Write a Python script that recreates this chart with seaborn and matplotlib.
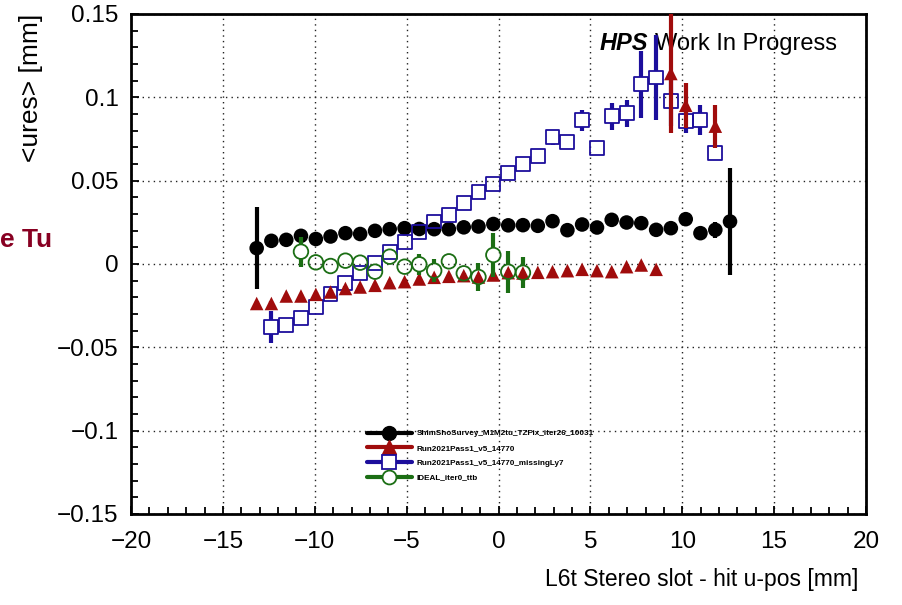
import numpy as np
import pandas as pd
import seaborn as sns
import matplotlib.pyplot as plt
from matplotlib.lines import Line2D
from matplotlib.ticker import MultipleLocator, FuncFormatter

# centros dos bins (hit u-pos, mm)
x_bins = [-13.16, -12.36, -11.55, -10.75, -9.94, -9.14, -8.33, -7.53, -6.72, -5.92,
          -5.11, -4.31, -3.50, -2.70, -1.89, -1.09, -0.28, 0.53, 1.33, 2.14,
          2.94, 3.75, 4.55, 5.36, 6.16, 6.97, 7.77, 8.58, 9.38, 10.19,
          10.99, 11.80, 12.60]

# ShimShoSurvey_M1M2tu_TZFix_iter26_10031 (todos os bins)
idx_shim = list(range(0, 33))
y_shim = [0.0095, 0.0139, 0.0145, 0.0169, 0.0150, 0.0165, 0.0185, 0.0180, 0.0199, 0.0209,
          0.0215, 0.0210, 0.0209, 0.0209, 0.0220, 0.0225, 0.0240, 0.0232, 0.0233, 0.0229,
          0.0257, 0.0203, 0.0237, 0.0219, 0.0265, 0.0249, 0.0245, 0.0205, 0.0215, 0.0269,
          0.0185, 0.0205, 0.0255]
e_shim = [0.0245, 0.002, 0.002, 0.002, 0.002, 0.002, 0.002, 0.002, 0.002, 0.002,
          0.002, 0.002, 0.002, 0.002, 0.002, 0.002, 0.002, 0.002, 0.002, 0.002,
          0.002, 0.002, 0.002, 0.002, 0.002, 0.002, 0.002, 0.002, 0.002, 0.002,
          0.003, 0.005, 0.032]

# Run2021Pass1_v5_14770 (bins 0-29 e 31)
idx_run = list(range(0, 30)) + [31]
y_run = [-0.0237, -0.0237, -0.0192, -0.0192, -0.0182, -0.0168, -0.0147, -0.0138, -0.0128, -0.0112,
         -0.0106, -0.0090, -0.0080, -0.0074, -0.0070, -0.0078, -0.0066, -0.0052, -0.0054, -0.0050,
         -0.0046, -0.0040, -0.0032, -0.0040, -0.0046, -0.0016, -0.0006, -0.0032, 0.1143, 0.0952,
         0.0827]
e_run = [0.0015] * 28 + [0.036, 0.0135, 0.013]

# Run2021Pass1_v5_14770_missingLy7 (bins 1-31)
idx_miss = list(range(1, 32))
y_miss = [-0.0378, -0.0367, -0.0322, -0.0257, -0.0181, -0.0113, -0.0056, 0.0008, 0.0074,
          0.0134, 0.0191, 0.0255, 0.0295, 0.0366, 0.0432, 0.0478, 0.0546, 0.0600, 0.0646,
          0.0761, 0.0731, 0.0863, 0.0697, 0.0886, 0.0904, 0.1078, 0.1119, 0.0978, 0.0857,
          0.0863, 0.0665]
e_miss = [0.0094, 0.003, 0.003, 0.003, 0.003, 0.003, 0.003, 0.003, 0.003,
          0.003, 0.003, 0.003, 0.003, 0.003, 0.003, 0.003, 0.003, 0.003, 0.003,
          0.0045, 0.003, 0.0062, 0.003, 0.008, 0.008, 0.020, 0.0253, 0.015, 0.007,
          0.009, 0.003]

# IDEAL_iter0_ttb (bins 3-18)
idx_ideal = list(range(3, 19))
y_ideal = [0.0074, 0.0010, -0.0012, 0.0020, 0.0008, -0.0046, 0.0044, -0.0016,
           -0.0002, -0.0040, 0.0016, -0.0056, -0.0078, 0.0054, -0.0046, -0.0052]
e_ideal = [0.009, 0.003, 0.003, 0.003, 0.003, 0.003, 0.003, 0.003,
           0.0065, 0.007, 0.003, 0.003, 0.0083, 0.0134, 0.0125, 0.0093]

nomes = ['ShimShoSurvey_M1M2tu_TZFix_iter26_10031',
         'Run2021Pass1_v5_14770',
         'Run2021Pass1_v5_14770_missingLy7',
         'IDEAL_iter0_ttb']
cores = ['#000000', '#a00c0c', '#1c0e9c', '#1b6e14']

xb = np.array(x_bins)

sns.set_theme(style='ticks')
plt.rcParams['font.family'] = ['Liberation Sans', 'DejaVu Sans']
plt.rcParams['axes.linewidth'] = 2.0
plt.rcParams['text.color'] = 'black'
plt.rcParams['axes.labelcolor'] = 'black'

fig = plt.figure(figsize=(9.02, 6.05), dpi=100)
ax = fig.add_axes([131 / 902, 1 - 514 / 605, 735 / 902, 500 / 605])
ax.set_xlim(-20, 20)
ax.set_ylim(-0.15, 0.15)

# meio marcador em unidades de y (barras com falha dentro dos marcadores abertos)
px_por_unid = 500 / 0.30
gap = 7.0 / px_por_unid


def barras(idx, y, e, cor, g, z):
    xs = xb[idx]
    y = np.array(y)
    e = np.array(e)
    m = e > g
    ax.vlines(xs[m], y[m] + g, y[m] + e[m], color=cor, lw=3, zorder=z)
    ax.vlines(xs[m], y[m] - e[m], y[m] - g, color=cor, lw=3, zorder=z)


# preto
barras(idx_shim, y_shim, e_shim, cores[0], 0, 3)
sns.scatterplot(x=xb[idx_shim], y=y_shim, marker='o', s=110, color=cores[0],
                edgecolor='none', ax=ax, zorder=3.5)
# azul
barras(idx_miss, y_miss, e_miss, cores[2], gap, 4)
sns.scatterplot(x=xb[idx_miss], y=y_miss, marker='s', s=100, color=cores[2],
                facecolor='none', edgecolor=cores[2], linewidth=1.3, ax=ax, zorder=4.5)
# vermelho
barras(idx_run, y_run, e_run, cores[1], 0, 5)
sns.scatterplot(x=xb[idx_run], y=y_run, marker='^', s=95, color=cores[1],
                edgecolor='none', ax=ax, zorder=5.5)
# verde
barras(idx_ideal, y_ideal, e_ideal, cores[3], gap, 6)
sns.scatterplot(x=xb[idx_ideal], y=y_ideal, marker='o', s=110, color=cores[3],
                facecolor='none', edgecolor=cores[3], linewidth=1.3, ax=ax, zorder=6.5)

# eixos estilo ROOT
ax.xaxis.set_major_locator(MultipleLocator(5))
ax.xaxis.set_minor_locator(MultipleLocator(1))
ax.yaxis.set_major_locator(MultipleLocator(0.05))
ax.yaxis.set_minor_locator(MultipleLocator(0.01))
fmt = FuncFormatter(lambda v, p: ('%g' % round(v, 4)).replace('-', '\u2212'))
ax.xaxis.set_major_formatter(fmt)
ax.yaxis.set_major_formatter(fmt)
ax.tick_params(which='both', direction='in', top=False, right=False, width=1.3,
               labelsize=17.5, color='black', labelcolor='black')
ax.tick_params(which='major', length=6)
ax.tick_params(which='minor', length=5)
ax.tick_params(axis='y', pad=9)
ax.tick_params(axis='x', pad=12)
for s in ax.spines.values():
    s.set_color('black')
    s.set_linewidth(2)
ax.grid(True, which='major', linestyle=(0, (1, 3)), color='#222222', lw=1.0)
ax.set_axisbelow(True)

ax.set_xlabel('L6t Stereo slot - hit u-pos [mm]', loc='right', fontsize=16.5)
ax.xaxis.set_label_coords(0.99, -0.108)
ax.set_ylabel('<ures> [mm]', loc='top', fontsize=19)
ax.yaxis.set_label_coords(-0.12, 1.0)

ax.text(0.638, 0.94, 'HPS', transform=ax.transAxes, fontsize=17,
        fontweight='bold', fontstyle='italic', va='center', ha='left')
ax.text(0.713, 0.94, 'Work In Progress', transform=ax.transAxes, fontsize=17,
        va='center', ha='left')

fig.text(0.0, 1 - 240 / 605, 'e Tu', color='#880022', fontsize=19,
         fontweight='bold', va='center', ha='left')

handles = [
    Line2D([], [], color=cores[0], lw=3, marker='o', markersize=10,
           markerfacecolor=cores[0], markeredgecolor=cores[0]),
    Line2D([], [], color=cores[1], lw=3, marker='^', markersize=10,
           markerfacecolor=cores[1], markeredgecolor=cores[1]),
    Line2D([], [], color=cores[2], lw=3, marker='s', markersize=9.5,
           markerfacecolor='white', markeredgecolor=cores[2], markeredgewidth=1.3),
    Line2D([], [], color=cores[3], lw=3, marker='o', markersize=10,
           markerfacecolor='white', markeredgecolor=cores[3], markeredgewidth=1.3),
]
leg = ax.legend(handles=handles, labels=nomes, loc='upper left',
                bbox_to_anchor=(0.313, 0.18), frameon=False,
                prop={'weight': 'bold', 'size': 5.9},
                handlelength=5.5, handletextpad=0.6, labelspacing=0.85,
                borderpad=0.2)
leg.set_zorder(10)

fig.savefig('out.png', dpi=100)
